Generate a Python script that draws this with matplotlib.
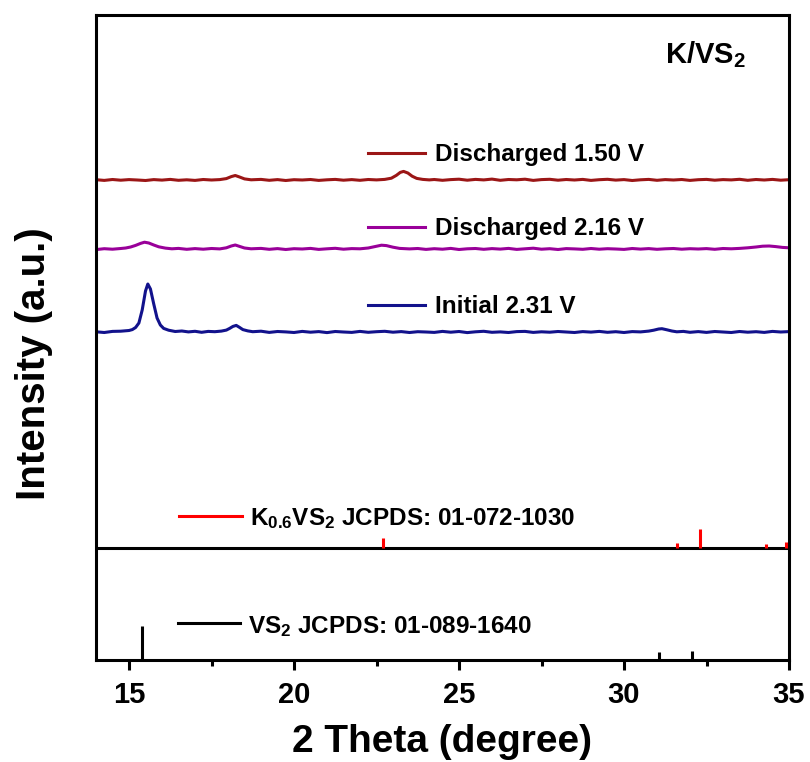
import numpy as np
import matplotlib
matplotlib.use("Agg")
import matplotlib.pyplot as plt
from matplotlib.ticker import MultipleLocator

plt.rcParams['font.family'] = ['Liberation Sans', 'DejaVu Sans']
plt.rcParams['font.weight'] = 'bold'
plt.rcParams['mathtext.fontset'] = 'custom'
plt.rcParams['mathtext.rm'] = 'Liberation Sans:bold'
plt.rcParams['mathtext.bf'] = 'Liberation Sans:bold'
plt.rcParams['mathtext.it'] = 'Liberation Sans:bold:italic'

# ---- data (intensity above each baseline, arbitrary units) ----
initial_pts = [
    (14.00, 0.2), (14.25, -0.5), (14.50, 0.6), (14.75, 0.8), (15.00, 1.5), (15.10, 2.4),
    (15.20, 4.5), (15.30, 9.0), (15.40, 22.0), (15.50, 41.0), (15.57, 48.0), (15.65, 43.0),
    (15.75, 28.0), (15.85, 14.0), (15.95, 7.0), (16.05, 3.6), (16.20, 1.8), (16.40, 0.5),
    (16.60, 1.0), (16.80, 0.1), (17.00, 0.7), (17.20, -0.3), (17.40, 0.6), (17.60, 0.3),
    (17.80, 0.9), (17.95, 1.9), (18.05, 3.6), (18.15, 5.6), (18.25, 6.6), (18.35, 4.6),
    (18.45, 2.4), (18.60, 1.1), (18.75, 0.3), (19.00, 0.8), (19.25, -0.4), (19.50, 0.5),
    (19.75, 0.1), (20.00, -0.5), (20.25, 0.6), (20.50, -0.2), (20.75, 0.4), (21.00, -0.6),
    (21.25, 0.5), (21.50, 0.0), (21.75, -0.4), (22.00, 0.6), (22.25, -0.3), (22.50, 0.3),
    (22.75, 0.7), (23.00, -0.2), (23.25, 0.4), (23.50, -0.5), (23.75, 0.3), (24.00, 0.0),
    (24.25, -0.4), (24.50, 0.6), (24.75, -0.2), (25.00, 0.5), (25.25, -0.6), (25.50, 0.2),
    (25.75, 0.7), (26.00, -0.3), (26.25, 0.1), (26.50, -0.5), (26.75, 0.4), (27.00, 0.6),
    (27.25, -0.4), (27.50, 0.2), (27.75, -0.2), (28.00, 0.5), (28.25, 0.0), (28.50, -0.5),
    (28.75, 0.4), (29.00, -0.1), (29.25, 0.6), (29.50, -0.3), (29.75, 0.3), (30.00, -0.5),
    (30.25, 0.4), (30.50, 0.1), (30.75, 0.9), (30.90, 1.8), (31.05, 3.0), (31.15, 3.3),
    (31.30, 2.2), (31.45, 1.0), (31.60, 0.2), (31.80, 0.6), (32.00, -0.3), (32.25, 0.4),
    (32.50, -0.4), (32.75, 0.5), (33.00, 0.0), (33.25, -0.5), (33.50, 0.5), (33.75, -0.2),
    (34.00, 0.3), (34.25, -0.4), (34.50, 0.6), (34.75, 0.0), (35.00, 0.4),
]

dis216_pts = [
    (14.00, -0.6), (14.25, 0.3), (14.50, -0.2), (14.75, 0.5), (14.90, 1.0), (15.05, 2.0),
    (15.20, 3.6), (15.35, 5.6), (15.47, 6.8), (15.60, 6.0), (15.75, 4.0), (15.90, 2.2),
    (16.10, 0.9), (16.30, 0.2), (16.50, 0.6), (16.75, -0.3), (17.00, 0.4), (17.25, -0.2),
    (17.50, 0.5), (17.75, 0.1), (17.95, 1.2), (18.10, 3.0), (18.22, 4.0), (18.35, 2.6),
    (18.50, 1.0), (18.70, 0.2), (19.00, 0.6), (19.25, -0.3), (19.50, 0.4), (19.75, -0.5),
    (20.00, 0.3), (20.25, 0.0), (20.50, 0.6), (20.75, -0.4), (21.00, 0.2), (21.25, 0.7),
    (21.50, -0.2), (21.75, 0.4), (22.00, 0.2), (22.25, 1.0), (22.45, 2.4), (22.65, 3.8),
    (22.80, 3.4), (23.00, 1.8), (23.20, 0.6), (23.50, 0.1), (23.75, 0.5), (24.00, -0.4),
    (24.25, 0.3), (24.50, -0.2), (24.75, 0.6), (25.00, -0.5), (25.25, 0.2), (25.50, 0.5),
    (25.75, -0.3), (26.00, 0.4), (26.25, -0.1), (26.50, 0.6), (26.75, -0.4), (27.00, 0.2),
    (27.25, 0.8), (27.50, -0.2), (27.75, 0.3), (28.00, -0.5), (28.25, 0.4), (28.50, 0.1),
    (28.75, -0.3), (29.00, 0.5), (29.25, -0.2), (29.50, 0.3), (29.75, 0.0), (30.00, -0.4),
    (30.25, 0.5), (30.50, -0.1), (30.75, 0.4), (31.00, -0.3), (31.25, 0.2), (31.50, 0.5),
    (31.75, -0.2), (32.00, 0.3), (32.25, 0.0), (32.50, 0.4), (32.75, -0.3), (33.00, 0.5),
    (33.25, 0.2), (33.50, 0.6), (33.75, 1.2), (34.00, 2.0), (34.20, 2.8), (34.40, 3.0),
    (34.60, 2.4), (34.80, 1.6), (35.00, 1.2),
]

dis150_pts = [
    (14.00, 0.3), (14.25, -0.4), (14.50, 0.5), (14.75, -0.2), (15.00, 0.4), (15.25, 0.0),
    (15.50, -0.5), (15.75, 0.4), (16.00, -0.1), (16.25, 0.6), (16.50, -0.3), (16.75, 0.2),
    (17.00, -0.4), (17.25, 0.5), (17.50, 0.0), (17.75, 0.4), (17.95, 1.4), (18.10, 3.4),
    (18.22, 4.5), (18.35, 3.0), (18.50, 1.1), (18.70, 0.2), (19.00, 0.6), (19.25, -0.3),
    (19.50, 0.4), (19.75, -0.5), (20.00, 0.3), (20.25, 0.0), (20.50, 0.5), (20.75, -0.4),
    (21.00, 0.2), (21.25, 0.6), (21.50, -0.2), (21.75, 0.4), (22.00, -0.3), (22.25, 0.5),
    (22.50, 0.1), (22.75, 0.6), (22.95, 1.8), (23.10, 4.6), (23.22, 7.6), (23.32, 8.6),
    (23.45, 7.0), (23.58, 3.8), (23.72, 1.6), (23.90, 0.6), (24.10, 0.1), (24.25, 0.5),
    (24.50, -0.3), (24.75, 0.4), (25.00, 0.8), (25.25, -0.2), (25.50, 0.6), (25.75, 0.1),
    (26.00, 0.9), (26.25, -0.3), (26.50, 0.5), (26.75, 0.2), (27.00, 0.8), (27.25, -0.4),
    (27.50, 0.4), (27.75, 0.7), (28.00, -0.2), (28.25, 0.5), (28.50, 0.0), (28.75, 0.6),
    (29.00, -0.4), (29.25, 0.3), (29.50, 0.7), (29.75, -0.1), (30.00, 0.4), (30.25, -0.5),
    (30.50, 0.2), (30.75, 0.6), (31.00, -0.3), (31.25, 0.4), (31.50, 0.0), (31.75, 0.5),
    (32.00, -0.4), (32.25, 0.3), (32.50, 0.6), (32.75, -0.2), (33.00, 0.4), (33.25, 0.1),
    (33.50, 0.7), (33.75, -0.3), (34.00, 0.5), (34.25, 0.0), (34.50, 0.6), (34.75, -0.2),
    (35.00, 0.3),
]

# reference patterns: (2theta, relative height)
k06vs2_sticks = [(22.70, 10), (31.60, 5), (32.30, 19), (34.30, 4), (34.92, 6)]
vs2_sticks = [(15.38, 34), (31.06, 8), (32.07, 9)]

labels = ['Discharged 1.50 V', 'Discharged 2.16 V', 'Initial 2.31 V']
curves = [dis150_pts, dis216_pts, initial_pts]
offsets = [480, 411, 328]
colors = ['#9b1616', '#990099', '#12128c']
label_y = [507, 433, 355]

k_base = 112   # separator between measured and reference patterns
lw = 2.2

fig = plt.figure(figsize=(8.1, 7.62), dpi=100)
ax = fig.add_axes([96 / 810, 102 / 762, 693 / 810, 645 / 762])

for pts, off, c, lab, ly in zip(curves, offsets, colors, labels, label_y):
    arr = np.array(pts)
    ax.plot(arr[:, 0], arr[:, 1] + off, color=c, lw=lw, solid_joinstyle='round')
    ax.plot([22.24, 23.97], [ly, ly], color=c, lw=lw)
    ax.text(24.27, ly - 8, lab, fontsize=17.5, fontweight='bold', va='baseline', ha='left')

ax.axhline(k_base, color='black', lw=lw)

ks = np.array(k06vs2_sticks)
ax.vlines(ks[:, 0], k_base, k_base + ks[:, 1], color='#ff0000', lw=lw)
vs = np.array(vs2_sticks)
ax.vlines(vs[:, 0], 0, vs[:, 1], color='black', lw=lw)

ax.plot([16.52, 18.42], [144, 144], color='#ff0000', lw=lw)
ax.text(18.67, 135, r'K$_{0.6}$VS$_2$ JCPDS: 01-072-1030', fontsize=17.5,
        fontweight='bold', va='baseline', ha='left')
ax.plot([16.48, 18.36], [37, 37], color='black', lw=lw)
ax.text(18.60, 27, r'VS$_2$ JCPDS: 01-089-1640', fontsize=17.5,
        fontweight='bold', va='baseline', ha='left')

ax.text(31.24, 597, r'K/VS$_2$', fontsize=21, fontweight='bold', va='baseline', ha='left')

ax.set_xlim(14, 35)
ax.set_ylim(0, 645)
ax.set_xticks([15, 20, 25, 30, 35])
ax.xaxis.set_minor_locator(MultipleLocator(2.5))
ax.set_yticks([])
ax.tick_params(axis='x', which='major', direction='out', length=7, width=2.2,
               pad=8, labelsize=21)
ax.tick_params(axis='x', which='minor', direction='out', length=4.5, width=2.2)
for lbl in ax.get_xticklabels():
    lbl.set_fontweight('bold')
for sp in ax.spines.values():
    sp.set_linewidth(2.2)

ax.set_xlabel('2 Theta (degree)', fontsize=28, fontweight='bold')
ax.xaxis.label.set_va('baseline')
ax.xaxis.set_label_coords(0.5, (660 - 752) / 645)

fig.text(34 / 810, 1 - 364 / 762, 'Intensity (a.u.)', rotation=90, fontsize=29,
         fontweight='bold', ha='center', va='center')

fig.savefig('out.png', dpi=100)
